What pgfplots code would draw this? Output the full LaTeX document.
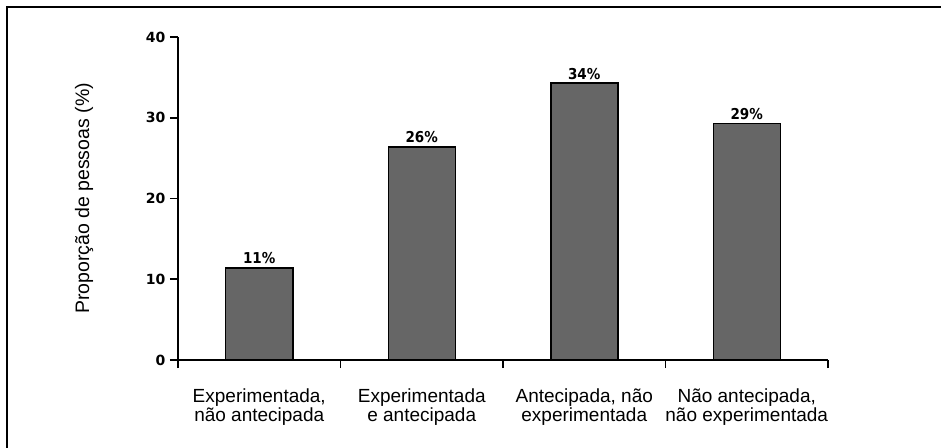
\documentclass[border=0pt]{standalone}
\usepackage{fontspec}
\setmainfont{Liberation Sans}
\newfontfamily\tickfont{DejaVu Sans}
\newfontfamily\barfont{DejaVu Sans Condensed}
\usepackage{pgfplots}
\pgfplotsset{compat=1.18}
\definecolor{barfill}{HTML}{666666}
\begin{document}
\begin{tikzpicture}
\useasboundingbox (-178pt,-87pt) rectangle (763pt,360pt);
\draw[line width=1.5pt, black] (-171pt,-100pt) -- (-171pt,353pt) -- (780pt,353pt);
\begin{axis}[
  at={(0pt,0pt)}, anchor=south west,
  scale only axis, width=650pt, height=323pt,
  xmin=-0.5, xmax=3.5, ymin=0, ymax=40,
  axis x line=bottom, axis y line=left,
  axis line style={line width=1.6pt, -},
  every tick/.style={line width=1.6pt, black},
  tick align=outside, major tick length=8pt,
  ytick={0,10,20,30,40},
  xtick={0,1,2,3},
  x tick style={draw=none},
  xticklabels={{Experimentada,\\não antecipada},{Experimentada\\e antecipada},{Antecipada, não\\experimentada},{Não antecipada,\\não experimentada}},
  xticklabel style={align=center, font=\fontsize{19}{19.5}\selectfont, yshift=-17pt},
  extra x ticks={-0.5,0.5,1.5,2.5,3.5},
  extra x tick labels={},
  extra x tick style={x tick style={draw=black}, major tick length=8pt},
  /pgf/number format/assume math mode=true,
  yticklabel style={font=\tickfont\bfseries\fontsize{14}{14}\selectfont, xshift=-1pt},
  every axis y label/.style={at={(axis description cs:-0.1446,0.5)}, rotate=90, anchor=center},
  ylabel={Proporção de pessoas (\%)},
  ylabel style={font=\fontsize{19.5}{20}\selectfont},
  clip=false,
]
\addplot[ybar, bar width=67pt, fill=barfill, draw=black, line width=1.5pt,
  point meta=explicit symbolic,
  nodes near coords={\pgfplotspointmeta},
  every node near coord/.append style={font=\barfont\bfseries\fontsize{15}{15}\selectfont, anchor=south, inner sep=2pt, yshift=1pt}]
  coordinates {(0,11.4) [11\%] (1,26.4) [26\%] (2,34.3) [34\%] (3,29.3) [29\%]};
\end{axis}
\end{tikzpicture}
\end{document}
